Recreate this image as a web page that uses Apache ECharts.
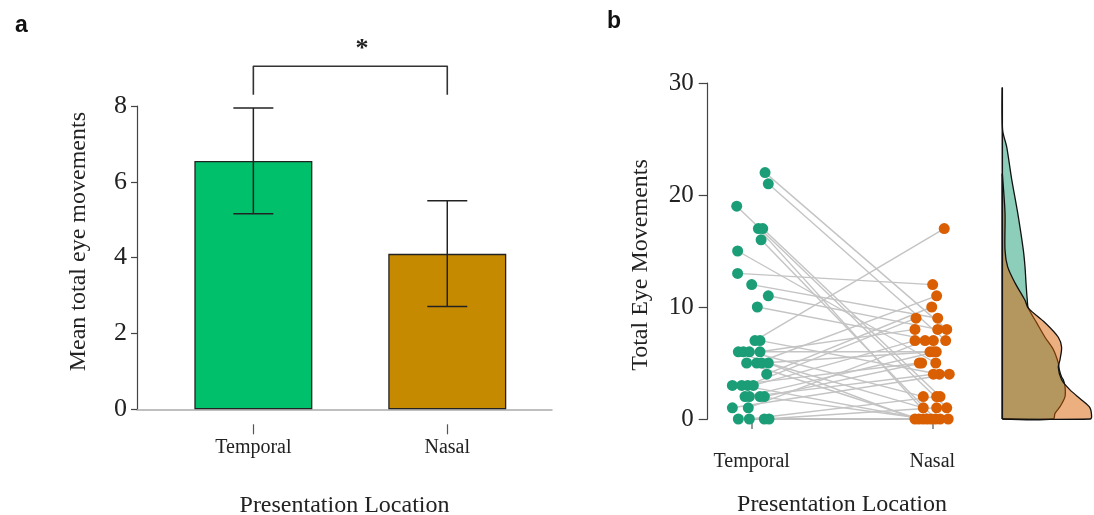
<!DOCTYPE html>
<html>
<head>
<meta charset="utf-8">
<script src="https://cdn.jsdelivr.net/npm/echarts@6/dist/echarts.min.js"></script>
<style>
  html, body { margin: 0; padding: 0; background: #fff; }
  #chart { width: 1094px; height: 515px; }
</style>
</head>
<body>
<div id="chart"></div>
<script>
// ---------- Panel a: bar chart ----------
const barCategories = ['Temporal', 'Nasal'];
const barPositions = [1, 2];
const barMeans = [6.55, 4.10];
const barErrLow = [5.16, 2.71];
const barErrHigh = [7.95, 5.50];
const barTicks = [0, 2, 4, 6, 8];

// ---------- Panel b: paired points ----------
const pairCategories = ['Temporal', 'Nasal'];
const temporalValues = [22, 21, 19, 17, 17, 16, 15, 13, 12, 11, 10, 7, 7, 6, 6, 6, 6, 5, 5, 5, 5, 4, 3, 3, 3, 3, 2, 2, 2, 2, 1, 1, 0, 0, 0, 0];
const temporalJitter = [0.074, 0.092, -0.083, 0.037, 0.061, 0.052, -0.078, -0.078, 0.0, 0.092, 0.031, 0.018, 0.046, -0.074, -0.046, -0.013, 0.046, -0.028, 0.028, 0.055, 0.092, 0.083, -0.107, -0.055, -0.022, 0.009, -0.037, -0.013, 0.046, 0.070, -0.107, -0.019, -0.074, -0.013, 0.070, 0.096];
const nasalValues = [8, 7, 1, 0, 2, 0, 5, 12, 9, 8, 7, 17, 4, 0, 6, 2, 8, 0, 11, 6, 1, 10, 5, 0, 9, 7, 6, 4, 0, 5, 4, 7, 0, 2, 1, 0];
const nasalJitter = [0.080, 0.074, 0.080, -0.006, 0.043, 0.018, 0.019, 0.002, 0.030, 0.030, 0.006, 0.066, 0.039, -0.096, -0.013, -0.050, -0.096, -0.074, 0.024, 0.006, -0.050, -0.003, -0.072, -0.050, -0.090, -0.096, 0.022, 0.006, -0.028, -0.059, 0.094, -0.040, 0.043, 0.024, 0.024, 0.088];
const pairTicks = [0, 10, 20, 30];

// ---------- Panel b: density (value, density) ----------
const temporalDensityValue = [29.6, 25.8, 24.3, 21.4, 18.4, 15.1, 13.6, 12.15, 10.6, 9.9, 8.6, 7.3, 6.2, 5.0, 4.4, 3.75, 3.5, 2.9, 2.0, 1.1, 0.5, 0];
const temporalDensity =      [0, 0.0003, 0.0044, 0.0094, 0.0154, 0.0210, 0.0227, 0.0237, 0.0250, 0.0260, 0.0343, 0.0427, 0.0510, 0.0560, 0.0570, 0.0593, 0.0610, 0.0627, 0.0627, 0.0577, 0.0527, 0.0510];
const nasalDensityValue = [21.9, 18.4, 15.1, 13.6, 12.15, 10.6, 9.9, 8.6, 7.3, 6.4, 5.3, 4.6, 3.5, 2.6, 1.7, 1.0, 0.2, 0];
const nasalDensity =      [0, 0.0027, 0.0027, 0.0053, 0.0127, 0.0227, 0.0260, 0.0427, 0.0560, 0.0593, 0.0577, 0.0560, 0.0593, 0.0677, 0.0793, 0.0877, 0.0893, 0.0880];

const SERIF = "'Liberation Serif', 'DejaVu Serif', serif";
const TXT = '#222';
const GREEN_BAR = '#00c06c';
const GOLD_BAR = '#c68a00';
const GREEN = '#1b9e77';
const ORANGE = '#d95f02';

const chart = echarts.init(document.getElementById('chart'), null, { renderer: 'canvas' });

function densityShape(vals, dens, fill) {
  return function (params, api) {
    const curve = [];
    for (let i = 0; i < vals.length; i++) curve.push(api.coord([dens[i], vals[i]]));
    const base0 = api.coord([0, vals[vals.length - 1]]);
    const baseTop = api.coord([0, vals[0]]);
    const outline = curve.concat([base0]);
    return {
      type: 'group', children: [
        { type: 'polyline', shape: { points: outline, smooth: 0.3 }, style: { fill: fill, stroke: '#111', lineWidth: 1.3, lineJoin: 'round' } },
        { type: 'line', shape: { x1: baseTop[0], y1: baseTop[1], x2: base0[0], y2: base0[1] }, style: { stroke: '#111', lineWidth: 1.5 } }
      ]
    };
  };
}

const option = {
  animation: false,
  backgroundColor: '#fff',
  title: [
    { text: 'a', left: 10, top: 9, textStyle: { fontFamily: "'Liberation Sans', Arial, sans-serif", fontWeight: 'bold', fontSize: 23, color: '#111' } },
    { text: 'b', left: 602, top: 5, textStyle: { fontFamily: "'Liberation Sans', Arial, sans-serif", fontWeight: 'bold', fontSize: 23, color: '#111' } }
  ],
  grid: [
    { left: 137, top: 106, width: 415, height: 303.3, outerBoundsMode: 'none', containLabel: false },
    { left: 751.7, top: 83, width: 180.6, height: 336, outerBoundsMode: 'none', containLabel: false },
    { left: 1002.3, top: 83, width: 90, height: 336, outerBoundsMode: 'none', containLabel: false }
  ],
  xAxis: [
    { // 0: left axis line
      gridIndex: 0, type: 'value', min: 0.4, max: 2.54,
      axisLine: { show: true, lineStyle: { color: '#aaa', width: 1.5 } },
      axisTick: { show: false }, axisLabel: { show: false }, splitLine: { show: false }
    },
    { // 1: left detached ticks and labels
      gridIndex: 0, type: 'value', min: 0.4, max: 2.54, position: 'bottom', offset: 15,
      axisLine: { show: false },
      axisTick: { show: true, customValues: barPositions, length: 10, lineStyle: { color: '#555', width: 1.2 } },
      axisLabel: {
        show: true, customValues: barPositions, margin: 13,
        formatter: v => barCategories[barPositions.indexOf(Math.round(v))] || '',
        fontFamily: SERIF, fontSize: 20, color: TXT
      },
      splitLine: { show: false },
      name: 'Presentation Location', nameLocation: 'middle', nameGap: 69,
      nameTextStyle: { fontFamily: SERIF, fontSize: 24, color: TXT }
    },
    { // 2: right panel
      gridIndex: 1, type: 'value', min: 1, max: 2, interval: 1, offset: 17,
      axisLine: { show: true, lineStyle: { color: '#777', width: 1.5 } },
      axisTick: { show: true, length: 10, lineStyle: { color: '#777', width: 1.5 } },
      axisLabel: {
        show: true, margin: 16,
        formatter: v => pairCategories[Math.round(v) - 1] || '',
        fontFamily: SERIF, fontSize: 20, color: TXT
      },
      splitLine: { show: false },
      name: 'Presentation Location', nameLocation: 'middle', nameGap: 57,
      nameTextStyle: { fontFamily: SERIF, fontSize: 24, color: TXT }
    },
    { // 3: density
      gridIndex: 2, type: 'value', min: 0, max: 0.09, show: false
    }
  ],
  yAxis: [
    {
      gridIndex: 0, type: 'value', min: barTicks[0], max: barTicks[barTicks.length - 1], interval: 2,
      axisLine: { show: true, lineStyle: { color: '#444', width: 1.2 } },
      axisTick: { show: true, length: 6, lineStyle: { color: '#444', width: 1.2 } },
      axisLabel: { fontFamily: SERIF, fontSize: 26, color: TXT, margin: 10 },
      splitLine: { show: false },
      name: 'Mean total eye movements', nameLocation: 'middle', nameGap: 46,
      nameTextStyle: { fontFamily: SERIF, fontSize: 24, color: TXT, padding: [0, 0, 0, 32] }
    },
    {
      gridIndex: 1, type: 'value', min: pairTicks[0], max: pairTicks[pairTicks.length - 1], interval: 10, offset: 44,
      axisLine: { show: true, lineStyle: { color: '#444', width: 1.2 } },
      axisTick: { show: true, length: 9, lineStyle: { color: '#444', width: 1.2 } },
      axisLabel: { fontFamily: SERIF, fontSize: 25, color: TXT, margin: 14 },
      splitLine: { show: false },
      name: 'Total Eye Movements', nameLocation: 'middle', nameGap: 55,
      nameTextStyle: { fontFamily: SERIF, fontSize: 24, color: TXT, padding: [0, 28, 0, 0] }
    },
    {
      gridIndex: 2, type: 'value', min: 0, max: 30, show: false
    }
  ],
  series: [
    { // 0 bars
      type: 'bar', xAxisIndex: 0, yAxisIndex: 0, barWidth: 118,
      data: barPositions.map((p, i) => ({
        value: [p, barMeans[i]],
        itemStyle: { color: i === 0 ? GREEN_BAR : GOLD_BAR, borderColor: '#222', borderWidth: 1.3 }
      }))
    },
    { // 1 error bars
      type: 'custom', xAxisIndex: 0, yAxisIndex: 0, z: 5,
      data: barPositions.map((p, i) => [p, barErrLow[i], barErrHigh[i]]),
      renderItem: function (params, api) {
        const x = api.value(0);
        const lo = api.coord([x, api.value(1)]);
        const hi = api.coord([x, api.value(2)]);
        const hw = 20;
        const st = { stroke: '#222', lineWidth: 1.5 };
        return {
          type: 'group', children: [
            { type: 'line', shape: { x1: lo[0], y1: lo[1], x2: hi[0], y2: hi[1] }, style: st },
            { type: 'line', shape: { x1: lo[0] - hw, y1: lo[1], x2: lo[0] + hw, y2: lo[1] }, style: st },
            { type: 'line', shape: { x1: hi[0] - hw, y1: hi[1], x2: hi[0] + hw, y2: hi[1] }, style: st }
          ]
        };
      }
    },
    { // 2 significance bracket
      type: 'custom', xAxisIndex: 0, yAxisIndex: 0, z: 5, clip: false,
      data: [[1.0, 8.3, 2.0, 9.05]],
      renderItem: function (params, api) {
        const a = api.coord([api.value(0), api.value(1)]);
        const b = api.coord([api.value(0), api.value(3)]);
        const c = api.coord([api.value(2), api.value(3)]);
        const d = api.coord([api.value(2), api.value(1)]);
        const star = api.coord([1.56, 9.5]);
        return {
          type: 'group', children: [
            { type: 'polyline', shape: { points: [a, b, c, d] }, style: { stroke: '#333', lineWidth: 1.6, fill: null, lineJoin: 'round' } },
            { type: 'text', x: star[0], y: star[1], style: { text: '*', fontFamily: SERIF, fontSize: 26, fontWeight: 'bold', fill: '#222', align: 'center', verticalAlign: 'middle' } }
          ]
        };
      }
    },
    { // 3 pair lines
      type: 'custom', xAxisIndex: 2, yAxisIndex: 1, z: 1, clip: false,
      data: temporalValues.map((v, i) => [1 + temporalJitter[i], v, 2 + nasalJitter[i], nasalValues[i]]),
      encode: { x: [0, 2], y: [1, 3] },
      renderItem: function (params, api) {
        const p1 = api.coord([api.value(0), api.value(1)]);
        const p2 = api.coord([api.value(2), api.value(3)]);
        return { type: 'line', shape: { x1: p1[0], y1: p1[1], x2: p2[0], y2: p2[1] }, style: { stroke: '#c4c4c4', lineWidth: 1.4 } };
      }
    },
    { // 4 scatter points
      type: 'scatter', xAxisIndex: 2, yAxisIndex: 1, z: 3, clip: false, symbolSize: 11,
      data: temporalValues.map((v, i) => ({ value: [1 + temporalJitter[i], v], itemStyle: { color: GREEN, opacity: 1 } }))
        .concat(nasalValues.map((v, i) => ({ value: [2 + nasalJitter[i], v], itemStyle: { color: ORANGE, opacity: 1 } })))
    },
    { // 5 temporal density
      type: 'custom', xAxisIndex: 3, yAxisIndex: 2, z: 2, clip: false,
      data: [[0, 0]],
      renderItem: densityShape(temporalDensityValue, temporalDensity, 'rgba(27,158,119,0.5)')
    },
    { // 6 nasal density
      type: 'custom', xAxisIndex: 3, yAxisIndex: 2, z: 3, clip: false,
      data: [[0, 0]],
      renderItem: densityShape(nasalDensityValue, nasalDensity, 'rgba(217,95,2,0.5)')
    }
  ]
};

chart.setOption(option);
</script>
</body>
</html>
